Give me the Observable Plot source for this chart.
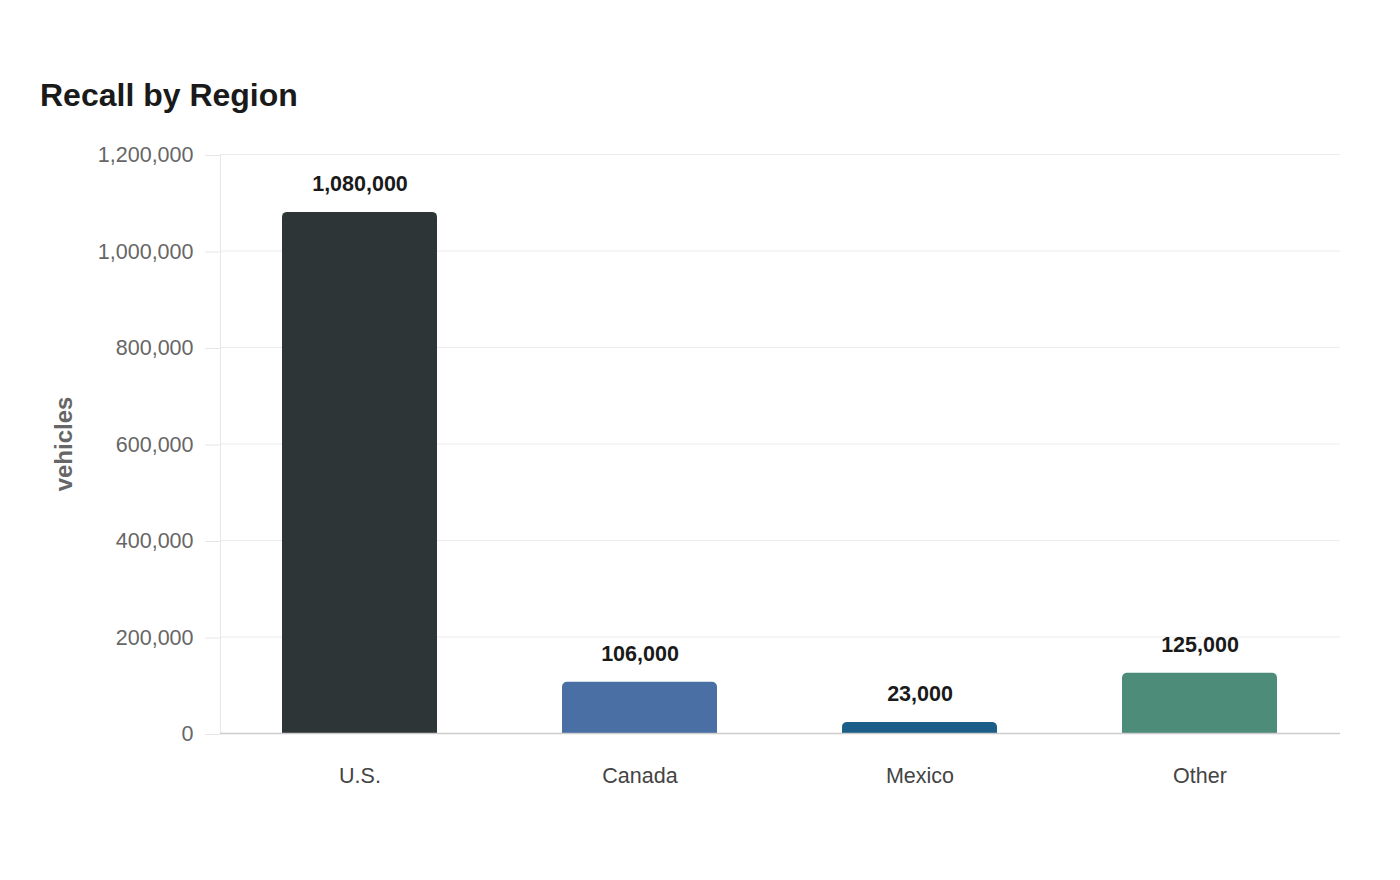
<!DOCTYPE html>
<html>
<head>
<meta charset="utf-8">
<script src="https://cdn.jsdelivr.net/npm/d3@7"></script>
<script src="https://cdn.jsdelivr.net/npm/@observablehq/plot@0.6"></script>
<style>
  html, body { margin: 0; padding: 0; background: #ffffff; }
  #wrap { position: relative; width: 1400px; height: 880px; font-family: "Liberation Sans", Arial, sans-serif; }
  #title { position: absolute; left: 40px; top: 79px; font-size: 32px; line-height: 32px; font-weight: bold; color: #1a1a1a; }
  #chart { position: absolute; left: 0; top: 130px; }
</style>
</head>
<body>
<div id="wrap">
  <div id="title">Recall by Region</div>
  <div id="chart"></div>
</div>
<script>
const regions = ["U.S.", "Canada", "Mexico", "Other"];
const vehicles = [1080000, 106000, 23000, 125000];
const barColors = ["#2e3537", "#4a6fa5", "#1b5e8a", "#4e8c7a"];
const yTicks = [0, 200000, 400000, 600000, 800000, 1000000, 1200000];

const data = regions.map((r, i) => ({region: r, vehicles: vehicles[i], color: barColors[i]}));
const fmt = d3.format(",");

const plot = Plot.plot({
  width: 1400,
  height: 720,
  marginTop: 24,
  marginBottom: 117,
  marginLeft: 220,
  marginRight: 60,
  style: {fontFamily: "'Liberation Sans', Arial, sans-serif", fontSize: "21.5px", background: "transparent"},
  x: {domain: regions, paddingInner: 0.446, paddingOuter: 0.223},
  y: {domain: [0, 1200000]},
  color: {type: "identity"},
  marks: [
    Plot.gridY(yTicks, {stroke: "#ebebeb", strokeOpacity: 1}),
    Plot.frame({anchor: "left", stroke: "#e6e6e6"}),
    Plot.axisY(yTicks, {
      tickSize: 15, tickPadding: 12, tickFormat: fmt, dy: 1,
      stroke: "#e6e6e6", strokeOpacity: 1, fill: "#666",
      label: "vehicles", labelAnchor: "center", labelOffset: 166, labelArrow: "none"
    }),
    Plot.barY(data, {x: "region", y: "vehicles", fill: "color", ry1: 5}),
    Plot.ruleY([0], {stroke: "#cccccc", strokeWidth: 1.5}),
    Plot.text(data, {
      x: "region", y: "vehicles", text: d => fmt(d.vehicles),
      lineAnchor: "bottom", dy: -21, fontWeight: "bold", fill: "#1a1a1a"
    }),
    Plot.axisX({tickSize: 0, tickPadding: 34, fill: "#444", label: null})
  ]
});
document.getElementById("chart").appendChild(plot);

// style the y-axis title
d3.select(plot).selectAll('[aria-label="y-axis label"] text')
  .attr("font-weight", "bold").attr("font-size", "24px").attr("fill", "#666");
</script>
</body>
</html>
